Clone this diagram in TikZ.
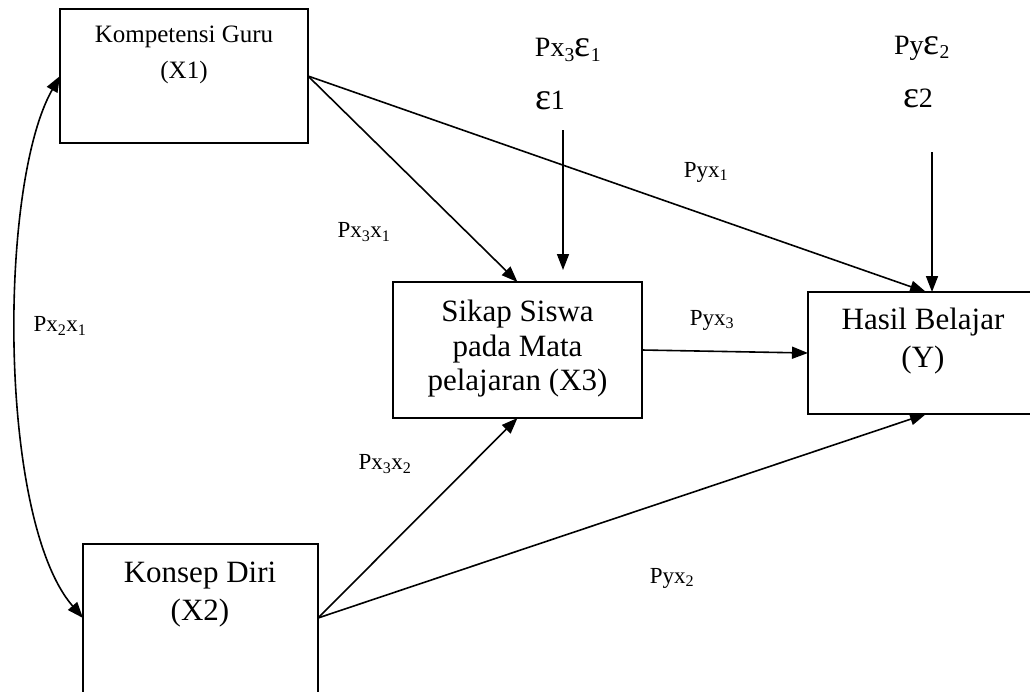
\documentclass[tikz,border=0pt]{standalone}
\usepackage{fontspec}
\setmainfont{Liberation Serif}
\usepackage{tikz}
\usetikzlibrary{arrows.meta}
\newcommand{\sizebig}{\fontsize{31}{38}\selectfont}
\newcommand{\sizemid}{\fontsize{25}{36}\selectfont}
\newcommand{\sizelab}{\fontsize{23}{26}\selectfont}
\newcommand{\sizeeps}{\fontsize{28}{30}\selectfont}
\newcommand{\bigeps}{{\fontsize{38}{30}\selectfont ε}}
\newcommand{\subeps}{\textsubscript{\fontsize{24}{24}\selectfont ε}}

\begin{document}
\begin{tikzpicture}[x=1pt, y=-1pt,
    varbox/.style={draw, line width=1.7pt, inner sep=0pt, outer sep=0pt},
    conn/.style={line width=1.6pt, -{Triangle[length=16pt,width=12pt]}},
    lbl/.style={inner sep=0pt, font=\sizelab},
    eps/.style={inner sep=0pt, font=\sizeeps}]
        \useasboundingbox (0,0) rectangle (1030,691);
        % Variable boxes
        \node[varbox, minimum width=248pt, minimum height=134pt] (x1) at (184,76) {};
        \node[varbox, minimum width=235pt, minimum height=170pt] (x2) at (200.5,629) {};
        \node[varbox, minimum width=249pt, minimum height=136pt] (x3) at (517.5,350) {};
        \node[varbox, minimum width=236pt, minimum height=122pt] (y) at (926,353) {};
        % Box texts
        \node[align=center, font=\sizemid] (x1txt) at (184,55)
          {Kompetensi Guru\\(X1)};
        \node[align=center, font=\sizebig] (x2txt) at (200,595)
          {Konsep Diri\\(X2)};
        \node[align=center, font=\sizebig, execute at begin node={\baselineskip=34.5pt}] (x3txt) at (517.5,349)
          {Sikap Siswa\\pada Mata\\pelajaran (X3)};
        \node[align=center, font=\sizebig] (ytxt) at (923,341)
          {Hasil Belajar\\(Y)};
        % Error terms
        \node[eps] (pe1) at (568,50) {Px\textsubscript{3}\bigeps\textsubscript{1}};
        \node[eps] (e1) at (550,100) {\bigeps1};
        \node[eps] (pe2) at (922,48) {Py\bigeps\textsubscript{2}};
        \node[eps] (e2) at (918,98) {\bigeps2};
        \coordinate (e1from) at (563,130);
        \coordinate (e1to) at (563,270);
        \coordinate (e2from) at (932,152);
        \coordinate (e2to) at (932,292);
        \coordinate (x2out) at (318,618);
        \coordinate (x2in) at (83,618);
        % Paths
        \draw[conn] (x1.east) -- (x3.north);
        \draw[conn] (x1.east) -- (y.north);
        \draw[conn] (e1from) -- (e1to);
        \draw[conn] (e2from) -- (e2to);
        \draw[conn] (x3.east) -- (y.west);
        \draw[conn] (x2out) -- (x3.south);
        \draw[conn] (x2out) -- (y.south);
        \draw[line width=1.6pt, {Triangle[length=16pt,width=12pt]}-{Triangle[length=16pt,width=12pt]}]
          (x1.west) .. controls (-2,185) and (-2,520) .. (x2in);
        % Labels
        \node[lbl] (pyx1) at (706,172) {Pyx\textsubscript{1}};
        \node[lbl] (px3x1) at (364,232) {Px\textsubscript{3}x\textsubscript{1}};
        \node[lbl] (px2x1) at (60,326) {Px\textsubscript{2}x\textsubscript{1}};
        \node[lbl] (pyx3) at (712,320) {Pyx\textsubscript{3}};
        \node[lbl] (px3x2) at (385,464) {Px\textsubscript{3}x\textsubscript{2}};
        \node[lbl] (pyx2) at (672,578) {Pyx\textsubscript{2}};
      \end{tikzpicture}
\end{document}
